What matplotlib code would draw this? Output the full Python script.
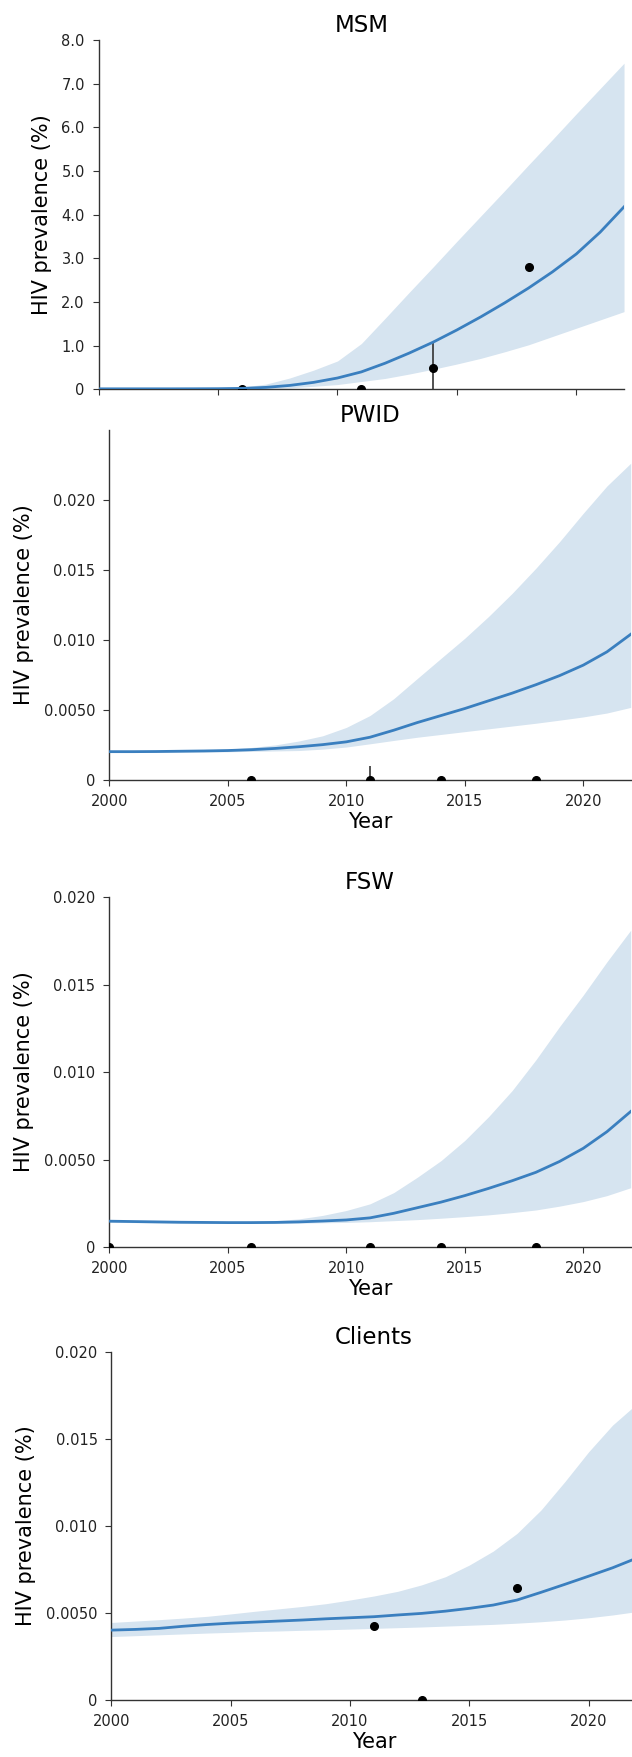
import matplotlib

matplotlib.use("Agg")
import matplotlib.pyplot as plt

# model years
years = list(range(2000, 2023))

# MSM (%)
msm_mean = [0.012, 0.012, 0.012, 0.012, 0.013, 0.015, 0.022, 0.045, 0.09, 0.16, 0.26, 0.40,
            0.60, 0.83, 1.08, 1.36, 1.66, 1.98, 2.32, 2.69, 3.10, 3.60, 4.18]
msm_low = [0.005, 0.005, 0.005, 0.005, 0.005, 0.005, 0.005, 0.015, 0.035, 0.07, 0.11, 0.18,
           0.25, 0.35, 0.46, 0.58, 0.71, 0.86, 1.02, 1.21, 1.40, 1.59, 1.78]
msm_high = [0.015, 0.015, 0.015, 0.015, 0.015, 0.02, 0.05, 0.12, 0.26, 0.44, 0.65, 1.05,
            1.63, 2.22, 2.80, 3.39, 3.97, 4.55, 5.14, 5.72, 6.31, 6.89, 7.47]
msm_obs_years = [2006, 2011, 2014, 2018]
msm_obs_vals = [0.0, 0.0, 0.5, 2.8]
msm_err_years = [2014]
msm_err_low = [0.0]
msm_err_high = [1.09]

# PWID (%)
pwid_mean = [0.00202, 0.00202, 0.00203, 0.00205, 0.00207, 0.00210, 0.00216, 0.00225, 0.00237,
             0.00252, 0.00272, 0.00305, 0.00355, 0.00410, 0.00460, 0.00510, 0.00565, 0.00620,
             0.00680, 0.00745, 0.00820, 0.00915, 0.01040]
pwid_low = [0.00196, 0.00196, 0.00197, 0.00198, 0.00199, 0.00201, 0.00204, 0.00207, 0.00210,
            0.00220, 0.00235, 0.00258, 0.00282, 0.00305, 0.00325, 0.00345, 0.00365, 0.00385,
            0.00405, 0.00427, 0.00450, 0.00478, 0.00518]
pwid_high = [0.00208, 0.00209, 0.00210, 0.00212, 0.00215, 0.00220, 0.00232, 0.00250, 0.00278,
             0.00315, 0.00375, 0.00460, 0.00580, 0.00725, 0.00869, 0.01012, 0.01167, 0.01333,
             0.01512, 0.01702, 0.01905, 0.02100, 0.02262]
pwid_obs_years = [2006, 2011, 2014, 2018]
pwid_obs_vals = [0.0, 0.0, 0.0, 0.0]
pwid_err_years = [2011]
pwid_err_low = [0.0]
pwid_err_high = [0.001]

# FSW (%)
fsw_mean = [0.00149, 0.00147, 0.00145, 0.00143, 0.00142, 0.00141, 0.00141, 0.00142, 0.00145,
            0.00150, 0.00156, 0.00168, 0.00194, 0.00226, 0.00258, 0.00295, 0.00336, 0.00380,
            0.00428, 0.00490, 0.00565, 0.00660, 0.00775]
fsw_low = [0.00143, 0.00141, 0.00139, 0.00137, 0.00136, 0.00136, 0.00136, 0.00137, 0.00138,
           0.00140, 0.00142, 0.00146, 0.00152, 0.00158, 0.00166, 0.00175, 0.00185, 0.00198,
           0.00213, 0.00235, 0.00261, 0.00295, 0.00340]
fsw_high = [0.00154, 0.00152, 0.00150, 0.00148, 0.00147, 0.00146, 0.00148, 0.00152, 0.00162,
            0.00182, 0.00210, 0.00248, 0.00312, 0.00400, 0.00495, 0.00610, 0.00745, 0.00895,
            0.01070, 0.01260, 0.01440, 0.01630, 0.01810]
fsw_obs_years = [2000, 2006, 2011, 2014, 2018]
fsw_obs_vals = [0.0, 0.0, 0.0, 0.0, 0.0]

# Clients (%)
cli_mean = [0.00402, 0.00406, 0.00412, 0.00424, 0.00434, 0.00442, 0.00448, 0.00454, 0.00460,
            0.00467, 0.00473, 0.00479, 0.00489, 0.00498, 0.00511, 0.00527, 0.00546, 0.00575,
            0.00619, 0.00665, 0.00712, 0.00760, 0.00815]
cli_low = [0.00365, 0.00370, 0.00375, 0.00380, 0.00385, 0.00389, 0.00394, 0.00397, 0.00401,
           0.00404, 0.00408, 0.00412, 0.00416, 0.00420, 0.00425, 0.00430, 0.00435, 0.00442,
           0.00450, 0.00460, 0.00473, 0.00489, 0.00508]
cli_high = [0.00446, 0.00454, 0.00462, 0.00471, 0.00481, 0.00495, 0.00510, 0.00524, 0.00538,
            0.00554, 0.00575, 0.00598, 0.00625, 0.00662, 0.00709, 0.00776, 0.00856, 0.00958,
            0.01092, 0.01255, 0.01427, 0.01580, 0.01700]
cli_obs_years = [2011, 2013, 2017]
cli_obs_vals = [0.00425, 0.0, 0.00643]

x_ticks = [2000, 2005, 2010, 2015, 2020]
msm_yticks = [0, 1, 2, 3, 4, 5, 6, 7, 8]
msm_ylabels = ["0", "1.0", "2.0", "3.0", "4.0", "5.0", "6.0", "7.0", "8.0"]
small_yticks = [0, 0.005, 0.010, 0.015, 0.020]
small_ylabels = ["0", "0.0050", "0.010", "0.015", "0.020"]

LINE = "#3a7fbf"
BAND = "#d6e4f0"
INK = "#333333"

fig = plt.figure(figsize=(6.32, 17.57), dpi=100)

panels = [
    # title, rect, mean, low, high, obs_x, obs_y, err, ylim, ticks, labels, xlabels
    ("MSM", [0.1562, 0.7784, 0.8312, 0.1988], msm_mean, msm_low, msm_high,
     msm_obs_years, msm_obs_vals, (msm_err_years, msm_err_low, msm_err_high),
     (0, 8.0), msm_yticks, msm_ylabels, False),
    ("PWID", [0.1729, 0.5561, 0.8250, 0.1992], pwid_mean, pwid_low, pwid_high,
     pwid_obs_years, pwid_obs_vals, (pwid_err_years, pwid_err_low, pwid_err_high),
     (0, 0.025), small_yticks, small_ylabels, True),
    ("FSW", [0.1729, 0.2901, 0.8250, 0.1994], fsw_mean, fsw_low, fsw_high,
     fsw_obs_years, fsw_obs_vals, None,
     (0, 0.020), small_yticks, small_ylabels, True),
    ("Clients", [0.1763, 0.0324, 0.8307, 0.1981], cli_mean, cli_low, cli_high,
     cli_obs_years, cli_obs_vals, None,
     (0, 0.020), small_yticks, small_ylabels, True),
]

for (title, rect, mean, low, high, ox, oy, err, ylim,
     yticks, ylabels, show_x) in panels:
    ax = fig.add_axes(rect)
    ax.fill_between(years, low, high, color=BAND, linewidth=0, zorder=1)
    if err is not None:
        ex, elo, ehi = err
        ax.vlines(ex, elo, ehi, color=INK, linewidth=1.2, zorder=2)
    ax.plot(ox, oy, "o", color="black", markersize=5.5, zorder=3)
    ax.plot(years, mean, color=LINE, linewidth=2.0, zorder=4,
            solid_joinstyle="round")

    ax.set_xlim(2000, 2022)
    ax.set_ylim(*ylim)
    ax.set_xticks(x_ticks)
    ax.set_yticks(yticks)
    ax.set_yticklabels(ylabels)
    if show_x:
        ax.set_xlabel("Year", fontsize=15, labelpad=2)
    else:
        ax.set_xticklabels([])
    ax.set_ylabel("HIV prevalence (%)", fontsize=15, labelpad=7)
    ax.set_title(title, fontsize=16.5, pad=6)

    for side in ("top", "right"):
        ax.spines[side].set_visible(False)
    for side in ("left", "bottom"):
        ax.spines[side].set_color(INK)
        ax.spines[side].set_linewidth(1.0)
    ax.tick_params(direction="out", length=4, width=0.8, pad=6, colors=INK,
                   labelsize=10.5, labelcolor="#222222")

fig.savefig("out.png", dpi=100)
